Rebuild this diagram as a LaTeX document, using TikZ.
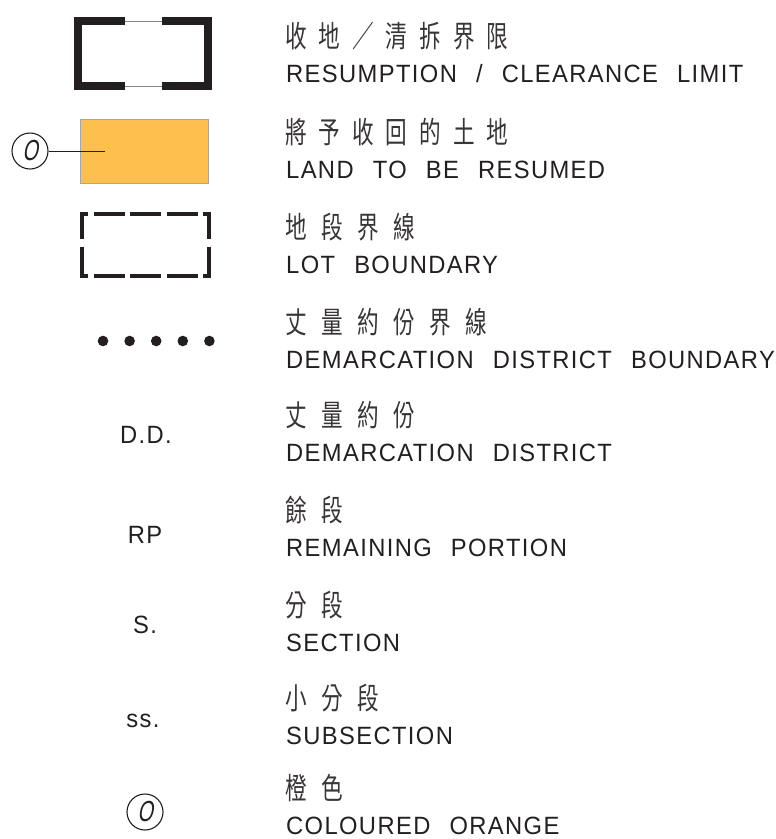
\documentclass[tikz,border=0pt]{standalone}
\usepackage{fontspec}
\setmainfont{Liberation Sans}
\newfontfamily\enfont{Liberation Sans}[FakeStretch=0.95,LetterSpace=5.5,WordSpace=2.4]
\newfontfamily\cnfont{Noto Sans CJK TC}[FakeStretch=0.72,LetterSpace=48]
\newfontfamily\cnfontb{Noto Sans CJK TC}[FakeStretch=0.72,LetterSpace=40]
\newfontfamily\ofont{Liberation Sans}[FakeSlant=0.2,FakeStretch=0.68]
\definecolor{ink}{HTML}{231F20}
\definecolor{landorange}{HTML}{FDC04C}
\tikzset{
  en/.style={anchor=base west,inner sep=0pt,text=ink,font=\enfont\fontsize{25}{30}\selectfont},
  cn/.style={anchor=base west,inner sep=0pt,text=ink!90,font=\cnfont\fontsize{30}{34}\selectfont},
  cnb/.style={anchor=base west,inner sep=0pt,text=ink!90,font=\cnfontb\fontsize{30}{34}\selectfont},
  abbr/.style={anchor=base,inner sep=0pt,text=ink,font=\enfont\fontsize{25}{30}\selectfont},
  thickbar/.style={line width=8pt,draw=ink,line cap=butt,line join=miter},
  thinlink/.style={line width=1pt,draw=ink!55},
  dashbar/.style={line width=4pt,draw=ink,line cap=butt,line join=miter},
  ocircle/.style={circle,draw=ink,line width=1.1pt,minimum size=36pt,inner sep=0pt,text=ink,font=\ofont\fontsize{29}{29}\selectfont},
  dot/.style={circle,fill=ink,inner sep=0pt,minimum size=10.6pt}
}
\begin{document}
\begin{tikzpicture}[x=1pt,y=-1pt]
\useasboundingbox (0,0) rectangle (776,839);
% 1 resumption / clearance limit
\draw[thickbar] (125,21) -- (78,21) -- (78,86) -- (125,86);
\draw[thickbar] (162,21) -- (208,21) -- (208,86) -- (162,86);
\draw[thinlink] (125,21) -- (162,21);
\draw[thinlink] (125,86) -- (162,86);
% 2 land to be resumed
\node[draw=ink!40,line width=0.8pt,fill=landorange,minimum width=128pt,minimum height=64pt,inner sep=0pt] (land) at (144,151) {};
\node[ocircle] (oc1) at (30,151) {O};
\coordinate (landpt) at (105,151);
\draw[ink,line width=1pt] (oc1.east) -- (landpt);
% 3 lot boundary
\draw[dashbar] (88,214) -- (82,214) -- (82,239);
\draw[dashbar] (203,214) -- (209,214) -- (209,239);
\draw[dashbar] (82,247) -- (82,276) -- (88,276);
\draw[dashbar] (209,247) -- (209,276) -- (203,276);
\foreach \a/\b in {93.5/124.5,130/161,166.5/197.5}{
  \draw[dashbar] (\a,214) -- (\b,214);
  \draw[dashbar] (\a,276) -- (\b,276);
}
% 4 dots
\foreach \i/\xx in {1/103,2/129.6,3/156.2,4/182.8,5/209.4}{
  \node[dot] (dot\i) at (\xx,341) {};
}
% abbreviations
\node[abbr] (dd) at (146,443) {D.D.};
\node[abbr] (rp) at (145,543) {RP};
\node[abbr] (s) at (145,633) {S.};
\node[abbr] (ss) at (143,727) {ss.};
\node[ocircle] (oc2) at (145,812) {O};
% texts
\node[cnb] (c1) at (285,47) {收地／清拆界限};
\node[en] (e1) at (286,82) {RESUMPTION / CLEARANCE LIMIT};
\node[cnb] (c2) at (285,143) {將予收回的土地};
\node[en] (e2) at (286,178) {LAND TO BE RESUMED};
\node[cn] (c3) at (285,238) {地段界線};
\node[en] (e3) at (286,273) {LOT BOUNDARY};
\node[cn] (c4) at (285,333) {丈量約份界線};
\node[en] (e4) at (286,368) {DEMARCATION DISTRICT BOUNDARY};
\node[cn] (c5) at (285,426) {丈量約份};
\node[en] (e5) at (286,461) {DEMARCATION DISTRICT};
\node[cn] (c6) at (285,521) {餘段};
\node[en] (e6) at (286,556) {REMAINING PORTION};
\node[cn] (c7) at (285,616) {分段};
\node[en] (e7) at (286,651) {SECTION};
\node[cn] (c8) at (285,709) {小分段};
\node[en] (e8) at (286,744) {SUBSECTION};
\node[cn] (c9) at (285,799) {橙色};
\node[en] (e9) at (286,834) {COLOURED ORANGE};
\end{tikzpicture}
\end{document}
